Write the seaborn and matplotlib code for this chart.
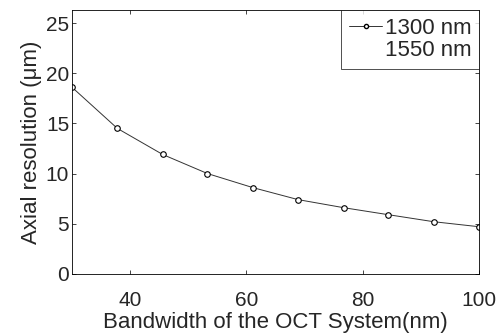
import pandas as pd
import matplotlib
matplotlib.use("Agg")
import matplotlib.pyplot as plt
from matplotlib.lines import Line2D
import seaborn as sns

# Data
bandwidth = [30, 37.8, 45.6, 53.3, 61.1, 68.9, 76.7, 84.4, 92.2, 100]
res_1300 = [18.6, 14.5, 11.9, 10.0, 8.6, 7.4, 6.6, 5.9, 5.2, 4.7]
legend_labels = ["1300 nm", "1550 nm"]
x_ticks = [40, 60, 80, 100]
y_ticks = [0, 5, 10, 15, 20, 25]

data = pd.DataFrame({"bandwidth": bandwidth, "res": res_1300})

# Style
sns.set_theme(style="white")
plt.rcParams["font.family"] = ["Liberation Sans", "DejaVu Sans"]
plt.rcParams["xtick.direction"] = "in"
plt.rcParams["ytick.direction"] = "in"

fig = plt.figure(figsize=(5, 3.34), dpi=100)
ax = fig.add_axes([0.144, 0.180, 0.814, 0.790])

sns.lineplot(x="bandwidth", y="res", data=data, ax=ax, color="#333333",
             linewidth=0.7, marker="o", markersize=4,
             markerfacecolor="white", markeredgecolor="black",
             markeredgewidth=0.8)

ax.set_xlim(30, 100)
ax.set_ylim(0, 26.3)
ax.set_xticks(x_ticks)
ax.set_yticks(y_ticks)
ax.tick_params(labelsize=15, length=3, width=0.6,
               bottom=True, left=True, top=True, right=True)
ax.tick_params(axis="x", pad=12)
ax.tick_params(axis="y", pad=2)
for s in ax.spines.values():
    s.set_color("black")
    s.set_linewidth(0.6)

ax.set_xlabel("Bandwidth of the OCT System(nm)", fontsize=16, labelpad=2)
ax.set_ylabel("Axial resolution (μm)", fontsize=16, labelpad=3)

# Legend
handles = [
    Line2D([], [], color="#333333", linewidth=0.7, marker="o", markersize=3,
           markerfacecolor="white", markeredgecolor="black"),
    Line2D([], [], color="none"),
]
leg = ax.legend(handles, legend_labels, loc="upper right", fontsize=16,
                frameon=True, fancybox=False, borderaxespad=0,
                handlelength=1.5, handletextpad=0.1, borderpad=0.35,
                labelspacing=0.05)
leg.get_frame().set_edgecolor("black")
leg.get_frame().set_linewidth(0.6)

plt.savefig("out.png", dpi=100)
